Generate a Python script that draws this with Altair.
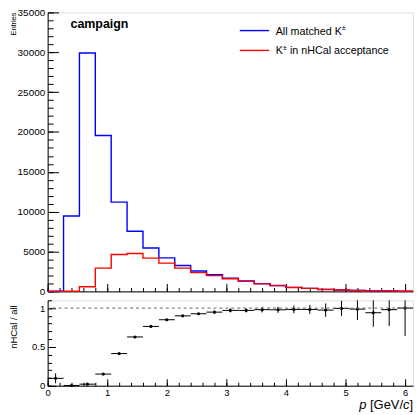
import altair as alt
import pandas as pd

FONT = "Liberation Sans"

# ---- data ----
bin_edges = [0.0, 0.2667, 0.5333, 0.8, 1.0667, 1.3333, 1.6, 1.8667, 2.1333, 2.4,
             2.6667, 2.9333, 3.2, 3.4667, 3.7333, 4.0, 4.2667, 4.5333, 4.8, 5.0667,
             5.3333, 5.6, 5.8667, 6.1333]
all_matched = [35, 9450, 29900, 19550, 11200, 7550, 5450, 4200, 3250, 2550,
               2090, 1640, 1300, 970, 740, 500, 380, 250, 180, 110, 65, 45, 20]
in_nhcal = [3, 25, 590, 2925, 4625, 4750, 4175, 3550, 2925, 2350,
            1980, 1590, 1260, 950, 725, 490, 375, 245, 180, 108, 61, 44, 20]
ratio = [0.095, 0.003, 0.02, 0.15, 0.414, 0.628, 0.764, 0.85, 0.90, 0.927,
         0.948, 0.97, 0.97, 0.98, 0.978, 0.983, 0.983, 0.974, 0.996, 0.987, 0.94, 0.98, 1.0]
ratio_err = [0.064, 0.004, 0.003, 0.003, 0.005, 0.007, 0.009, 0.011, 0.013, 0.015,
             0.02, 0.026, 0.026, 0.036, 0.04, 0.05, 0.058, 0.086, 0.1, 0.14, 0.18, 0.21, 0.36]

legend_all = ["All matched K"]
legend_k = ["K"]
legend_acc = ["in nHCal acceptance"]
sup_pm = ["\u00b1"]
campaign = ["campaign"]
ytitle_top = ["Entries"]
ytitle_bot = ["nHCal / all"]
xt_p = ["p"]
xt_mid = ["[GeV/"]
xt_c = ["c"]
xt_end = ["]"]

x_major = [0, 1, 2, 3, 4, 5, 6]
x_minor = [round(0.2 * i, 1) for i in range(31)]
y_major = list(range(0, 35001, 5000))
y_minor = list(range(0, 35001, 1000))
r_major = [0, 0.5, 1]
r_minor = [round(0.1 * i, 1) for i in range(12)]
unity = [1.0]

# ---- tables ----
hist = pd.DataFrame({
    "p": bin_edges,
    "all": all_matched + all_matched[-1:],
    "nhcal": in_nhcal + in_nhcal[-1:],
})
rat = pd.DataFrame({
    "lo": bin_edges[:-1],
    "hi": bin_edges[1:],
    "r": ratio,
    "err": ratio_err,
})
rat["c"] = (rat["lo"] + rat["hi"]) / 2
rat["rlo"] = rat["r"] - rat["err"]
rat["rhi"] = rat["r"] + rat["err"]

W, HT, HB = 368, 281, 86
xscale = alt.Scale(domain=[bin_edges[0], bin_edges[-1]], nice=False, zero=False)
ytop = alt.Scale(domain=[0, 35000], nice=False)
yrat = alt.Scale(domain=[0, 1.1], nice=False)


def frame_axis(orient, values=None, labels=False, fs=10, pad=3, fmt="~g"):
    kw = dict(orient=orient, labels=labels, ticks=False, domain=True,
              domainColor="black", domainWidth=1, grid=False, title=None,
              labelFont=FONT, labelFontSize=fs, labelColor="black",
              labelPadding=pad, labelFlush=False, labelOverlap=False, format=fmt)
    if values is not None:
        kw["values"] = values
    return alt.Axis(**kw)


def tick_axis(orient, values, size):
    return alt.Axis(orient=orient, values=values, labels=False, ticks=True,
                    tickSize=size, offset=-size, domain=False, grid=False,
                    tickColor="black", tickWidth=1, title=None)


def txt(data, x, y, size, **kw):
    return alt.Chart(pd.DataFrame({"t": data})).mark_text(
        font=FONT, fontSize=size, color="black", **kw
    ).encode(x=alt.value(x), y=alt.value(y), text="t:N")


# ---- top panel ----
base = alt.Chart(hist)
blue = base.mark_line(interpolate="step-after", color="#0000ff", strokeWidth=1.4).encode(
    x=alt.X("p:Q", scale=xscale, axis=frame_axis("bottom")),
    y=alt.Y("all:Q", scale=ytop, axis=frame_axis("left", y_major, True, 10, 3, "d")),
)
red = base.mark_line(interpolate="step-after", color="#ff0000", strokeWidth=1.4).encode(
    x=alt.X("p:Q", scale=xscale, axis=tick_axis("bottom", x_major, 8)),
    y=alt.Y("nhcal:Q", scale=ytop, axis=tick_axis("left", y_major, 11)),
)
minor_top = base.mark_line(opacity=0).encode(
    x=alt.X("p:Q", scale=xscale, axis=tick_axis("bottom", x_minor, 4)),
    y=alt.Y("all:Q", scale=ytop, axis=tick_axis("left", y_minor, 5.5)),
)

leg_one = pd.DataFrame({"k": [0]})
leg_blue = alt.Chart(leg_one).mark_rule(color="#0000ff", strokeWidth=1.4).encode(
    x=alt.value(193.5), x2=alt.value(223), y=alt.value(18.3))
leg_red = alt.Chart(leg_one).mark_rule(color="#ff0000", strokeWidth=1.4).encode(
    x=alt.value(193.5), x2=alt.value(223), y=alt.value(38.3))

FS_LEG = 10.8
t1 = txt(legend_all, 229.7, 22.3, FS_LEG, align="left", baseline="alphabetic")
s1 = txt(sup_pm, 296.3, 18.0, 7.5, align="left", baseline="alphabetic")
t2 = txt(legend_k, 229.7, 42.3, FS_LEG, align="left", baseline="alphabetic")
s2 = txt(sup_pm, 236.9, 38.0, 7.5, align="left", baseline="alphabetic")
t3 = txt(legend_acc, 244.0, 42.3, FS_LEG, align="left", baseline="alphabetic")
camp = txt(campaign, 23, 15.5, 12.5, align="left", baseline="alphabetic", fontWeight="bold")
ent = txt(ytitle_top, -34, 0, 7.5, align="right", baseline="middle", angle=270)

top = alt.layer(blue, red, minor_top, leg_blue, leg_red, t1, s1, t2, s2, t3, camp, ent).resolve_axis(
    x="independent", y="independent"
).properties(width=W, height=HT)

# ---- ratio panel ----
rb = alt.Chart(rat)
pts = rb.mark_point(filled=True, shape="circle", size=10, color="black", opacity=1).encode(
    x=alt.X("c:Q", scale=xscale, axis=frame_axis("bottom", x_major, True, 9.5, 2)),
    y=alt.Y("r:Q", scale=yrat, axis=frame_axis("left", r_major, True, 9.5, 3)),
)
herr = rb.mark_rule(color="black", strokeWidth=1).encode(
    x=alt.X("lo:Q", scale=xscale, axis=tick_axis("bottom", x_major, 7)),
    x2="hi:Q",
    y=alt.Y("r:Q", scale=yrat, axis=tick_axis("left", r_major, 8)),
)
verr = rb.mark_rule(color="black", strokeWidth=1, clip=True).encode(
    x=alt.X("c:Q", scale=xscale, axis=tick_axis("bottom", x_minor, 3.5)),
    y=alt.Y("rlo:Q", scale=yrat, axis=tick_axis("left", r_minor, 4)),
    y2="rhi:Q",
)
one = alt.Chart(pd.DataFrame({"v": unity})).mark_rule(
    color="#666666", strokeWidth=1, strokeDash=[3, 3]
).encode(y=alt.Y("v:Q", scale=yrat, axis=None))

FS_X = 13
xp = txt(xt_p, 321.0, 109.5, FS_X, align="right", baseline="alphabetic", fontStyle="italic")
xm = txt(xt_mid, 357.9, 109.5, FS_X, align="right", baseline="alphabetic")
xc = txt(xt_c, 364.4, 109.5, FS_X, align="right", baseline="alphabetic", fontStyle="italic")
xe = txt(xt_end, 368.0, 109.5, FS_X, align="right", baseline="alphabetic")
rt = txt(ytitle_bot, -34, 5, 9.5, align="right", baseline="middle", angle=270)

bottom = alt.layer(herr, verr, pts, one, xp, xm, xc, xe, rt).resolve_axis(
    x="independent", y="independent"
).properties(width=W, height=HB)

chart = alt.vconcat(top, bottom, spacing=9, bounds="flush").properties(
    padding={"left": 8, "top": 5, "right": 0, "bottom": 0}
).configure_view(stroke="#444444", strokeWidth=1).configure_axis(grid=False).configure(background="white")

chart.save("out.html", embed_options={"renderer": "svg", "actions": False})
